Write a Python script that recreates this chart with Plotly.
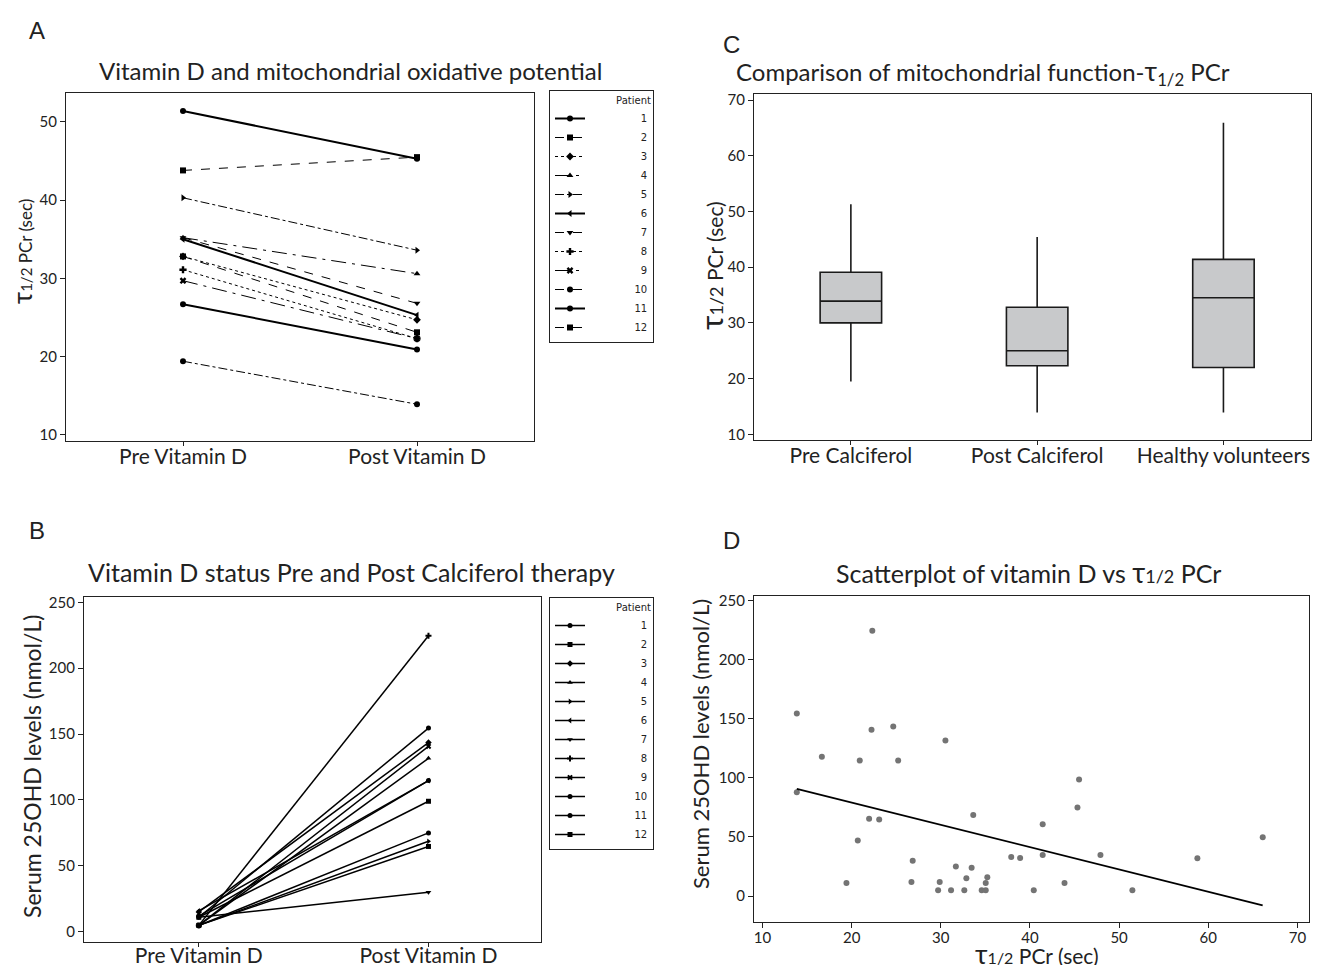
import plotly.graph_objects as go

W, H = 1330, 965

# ---------------- data ----------------
patients = [str(i) for i in range(1, 13)]
timepoints = ["Pre Vitamin D", "Post Vitamin D"]
tau_pre = [51.4, 43.8, 32.8, 35.2, 40.3, 35.0, 35.2, 31.1, 29.7, 19.4, 26.7, 32.8]
tau_post = [45.3, 45.5, 24.7, 30.6, 33.6, 25.3, 26.8, 22.3, 22.3, 13.9, 20.9, 23.1]
vitd_pre = [4.8, 11.0, 15.0, 4.8, 4.8, 15.8, 11.0, 4.8, 4.8, 11.0, 11.9, 4.8]
vitd_post = [75.0, 99.0, 143.5, 131.6, 68.6, 114.7, 29.9, 224.6, 140.7, 154.5, 114.7, 64.7]

box_groups = ["Pre Calciferol", "Post Calciferol", "Healthy volunteers"]
box_low = [19.5, 13.9, 13.9]
box_q1 = [30.0, 22.3, 22.0]
box_med = [33.9, 25.0, 34.5]
box_q3 = [39.1, 32.8, 41.4]
box_high = [51.3, 45.4, 65.9]

scatter_tau = [13.85, 13.85, 16.66, 19.42, 20.69, 20.91, 21.96, 22.23, 22.32, 23.09,
               24.67, 25.22, 26.71, 26.85, 29.70, 29.88, 30.52, 31.15, 31.69, 32.64,
               32.87, 33.46, 33.64, 34.59, 35.04, 35.04, 35.22, 37.90, 38.90, 40.43,
               41.43, 41.43, 43.88, 45.33, 45.51, 47.91, 51.49, 58.78, 66.11]
scatter_vitd = [154.5, 87.9, 117.8, 11.0, 46.9, 114.7, 65.5, 140.7, 224.6, 64.7,
                143.5, 114.7, 11.9, 29.9, 4.8, 11.9, 131.6, 4.8, 24.9, 4.8,
                15.0, 24.0, 68.6, 4.8, 4.8, 11.0, 15.8, 33.1, 32.2, 4.8,
                34.7, 60.7, 11.0, 74.9, 98.6, 34.7, 4.8, 31.9, 49.7]
fit_tau = [13.85, 66.1]
fit_vitd = [90.7, -7.9]

# ---------------- styles ----------------
symbols = ["circle", "square", "diamond", "triangle-up", "triangle-right", "triangle-left",
           "triangle-down", "cross", "x", "circle", "circle", "square"]
dashes = ["solid", "dash", "dot", "longdashdot", "dashdot", "solid",
          "dash", "dot", "longdashdot", "dashdot", "solid", "dash"]
FONT = "Lato, 'Open Sans', sans-serif"
INK = "#222"


def fx(p):
    return p / W


def fy(p):
    return 1 - p / H


def legend_name(p):
    pad = "\u00a0" * 14 + ("\u2007" if len(p) < 2 else "")
    return pad + p


fig = go.Figure()

# Panel A
for i, p in enumerate(patients):
    solid = dashes[i] == "solid"
    fig.add_trace(go.Scatter(
        x=timepoints, y=[tau_pre[i], tau_post[i]], name=legend_name(p), mode="lines+markers",
        line=dict(color="black", width=2 if solid else 1, dash=dashes[i]),
        marker=dict(symbol=symbols[i], size=6, color="black"),
        xaxis="x", yaxis="y", legend="legend"))

# Panel B
for i, p in enumerate(patients):
    fig.add_trace(go.Scatter(
        x=timepoints, y=[vitd_pre[i], vitd_post[i]], name=legend_name(p), mode="lines+markers",
        line=dict(color="black", width=1.5),
        marker=dict(symbol=symbols[i], size=5, color="black"),
        xaxis="x2", yaxis="y2", legend="legend2"))

# Panel C
for i, g in enumerate(box_groups):
    fig.add_trace(go.Box(
        x=[g], q1=[box_q1[i]], median=[box_med[i]], q3=[box_q3[i]],
        lowerfence=[box_low[i]], upperfence=[box_high[i]],
        fillcolor="#c8c9cb", line=dict(color="#1a1a1a", width=1.6),
        whiskerwidth=0, width=0.33, showlegend=False, boxpoints=False,
        xaxis="x3", yaxis="y3"))

# Panel D
fig.add_trace(go.Scatter(
    x=scatter_tau, y=scatter_vitd, mode="markers",
    marker=dict(size=6, color="#747474"), showlegend=False,
    xaxis="x4", yaxis="y4"))
fig.add_trace(go.Scatter(
    x=fit_tau, y=fit_vitd, mode="lines",
    line=dict(color="black", width=1.8), showlegend=False,
    xaxis="x4", yaxis="y4"))

axis_common = dict(showline=True, linecolor=INK, linewidth=1.3, mirror=True,
                   ticks="outside", ticklen=5, tickcolor=INK, showgrid=False,
                   zeroline=False, automargin=False,
                   tickfont=dict(family=FONT, size=15, color=INK))
cat_axis = {**axis_common, "tickfont": dict(family=FONT, size=21, color=INK),
            "ticklen": 4, "ticklabelstandoff": -7}

legend_common = dict(xanchor="left", yanchor="top", bordercolor=INK, borderwidth=1,
                     bgcolor="white", font=dict(family="DejaVu Sans", size=10, color=INK),
                     title=dict(text="Patient", side="top right",
                                font=dict(family="DejaVu Sans", size=10, color=INK)),
                     tracegroupgap=0, itemwidth=30)

fig.update_layout(
    width=W, height=H, margin=dict(l=0, r=0, t=0, b=0, autoexpand=False), autosize=False,
    paper_bgcolor="white", plot_bgcolor="white",
    font=dict(family=FONT, color=INK),
    xaxis=dict(domain=[fx(66), fx(534)], anchor="y", range=[-0.5, 1.5], **cat_axis),
    yaxis=dict(domain=[fy(441), fy(93)], anchor="x", range=[9.2, 53.7],
               tickvals=[10, 20, 30, 40, 50], **axis_common),
    xaxis2=dict(domain=[fx(84), fx(541)], anchor="y2", range=[-0.5, 1.49],
                **{**cat_axis, "ticklabelstandoff": -9}),
    yaxis2=dict(domain=[fy(942), fy(597)], anchor="x2", range=[-7.8, 254],
                tickvals=[0, 50, 100, 150, 200, 250], **axis_common),
    xaxis3=dict(domain=[fx(754), fx(1311)], anchor="y3", range=[-0.52, 2.47], **cat_axis),
    yaxis3=dict(domain=[fy(440), fy(94)], anchor="x3", range=[8.98, 71.08],
                tickvals=[10, 20, 30, 40, 50, 60, 70], **axis_common),
    xaxis4=dict(domain=[fx(754), fx(1309)], anchor="y4", range=[9.05, 71.3],
                tickvals=[10, 20, 30, 40, 50, 60, 70],
                **{**axis_common, "ticklabelstandoff": -3}),
    yaxis4=dict(domain=[fy(922), fy(596)], anchor="x4", range=[-22, 254],
                tickvals=[0, 50, 100, 150, 200, 250], **axis_common),
    legend=dict(x=fx(549), y=fy(90), **legend_common),
    legend2=dict(x=fx(549), y=fy(597), **legend_common),
)

ann = []


def text(x, y, s, size, angle=0, family=FONT):
    ann.append(dict(x=fx(x), y=fy(y), xref="paper", yref="paper", text=s, showarrow=False,
                    textangle=angle, xanchor="center", yanchor="middle",
                    font=dict(family=family, size=size, color=INK)))


text(37, 30, "A", 24, family="Liberation Sans")
text(37, 530, "B", 24, family="Liberation Sans")
text(731, 45, "C", 24, family="Liberation Sans")
text(731, 540, "D", 24, family="Liberation Sans")

text(350, 70, "Vitamin D and mitochondrial oxidative potential", 24)
text(352, 572, "Vitamin D status Pre and Post Calciferol therapy", 25)
text(983, 72, "Comparison of mitochondrial function-<span style='font-size:27px'>τ</span>"
              "<sub>1/2</sub> PCr", 24)
text(1028, 572, "Scatterplot of vitamin D vs <span style='font-size:28px'>τ</span>"
                "<span style='font-size:18px'>1/2</span> PCr", 25)


def tau_title(tau, sub):
    return (f"<span style='font-size:{tau}px'>τ</span>"
            f"<span style='font-size:{sub}px'>1/2</span> PCr (sec)")


text(22, 252, tau_title(26, 15), 17, angle=-90)
text(711, 266, tau_title(31, 18), 21, angle=-90)
text(1037, 953, tau_title(27, 16), 21)
text(32, 767, "Serum 25OHD levels (nmol/L)", 23, angle=-90)
text(700, 744, "Serum 25OHD levels (nmol/L)", 22, angle=-90)

fig.update_layout(annotations=ann)
fig.write_html("out.html", config={"displayModeBar": False},
               post_script="document.body.style.margin='0';document.body.style.overflow='hidden';")
